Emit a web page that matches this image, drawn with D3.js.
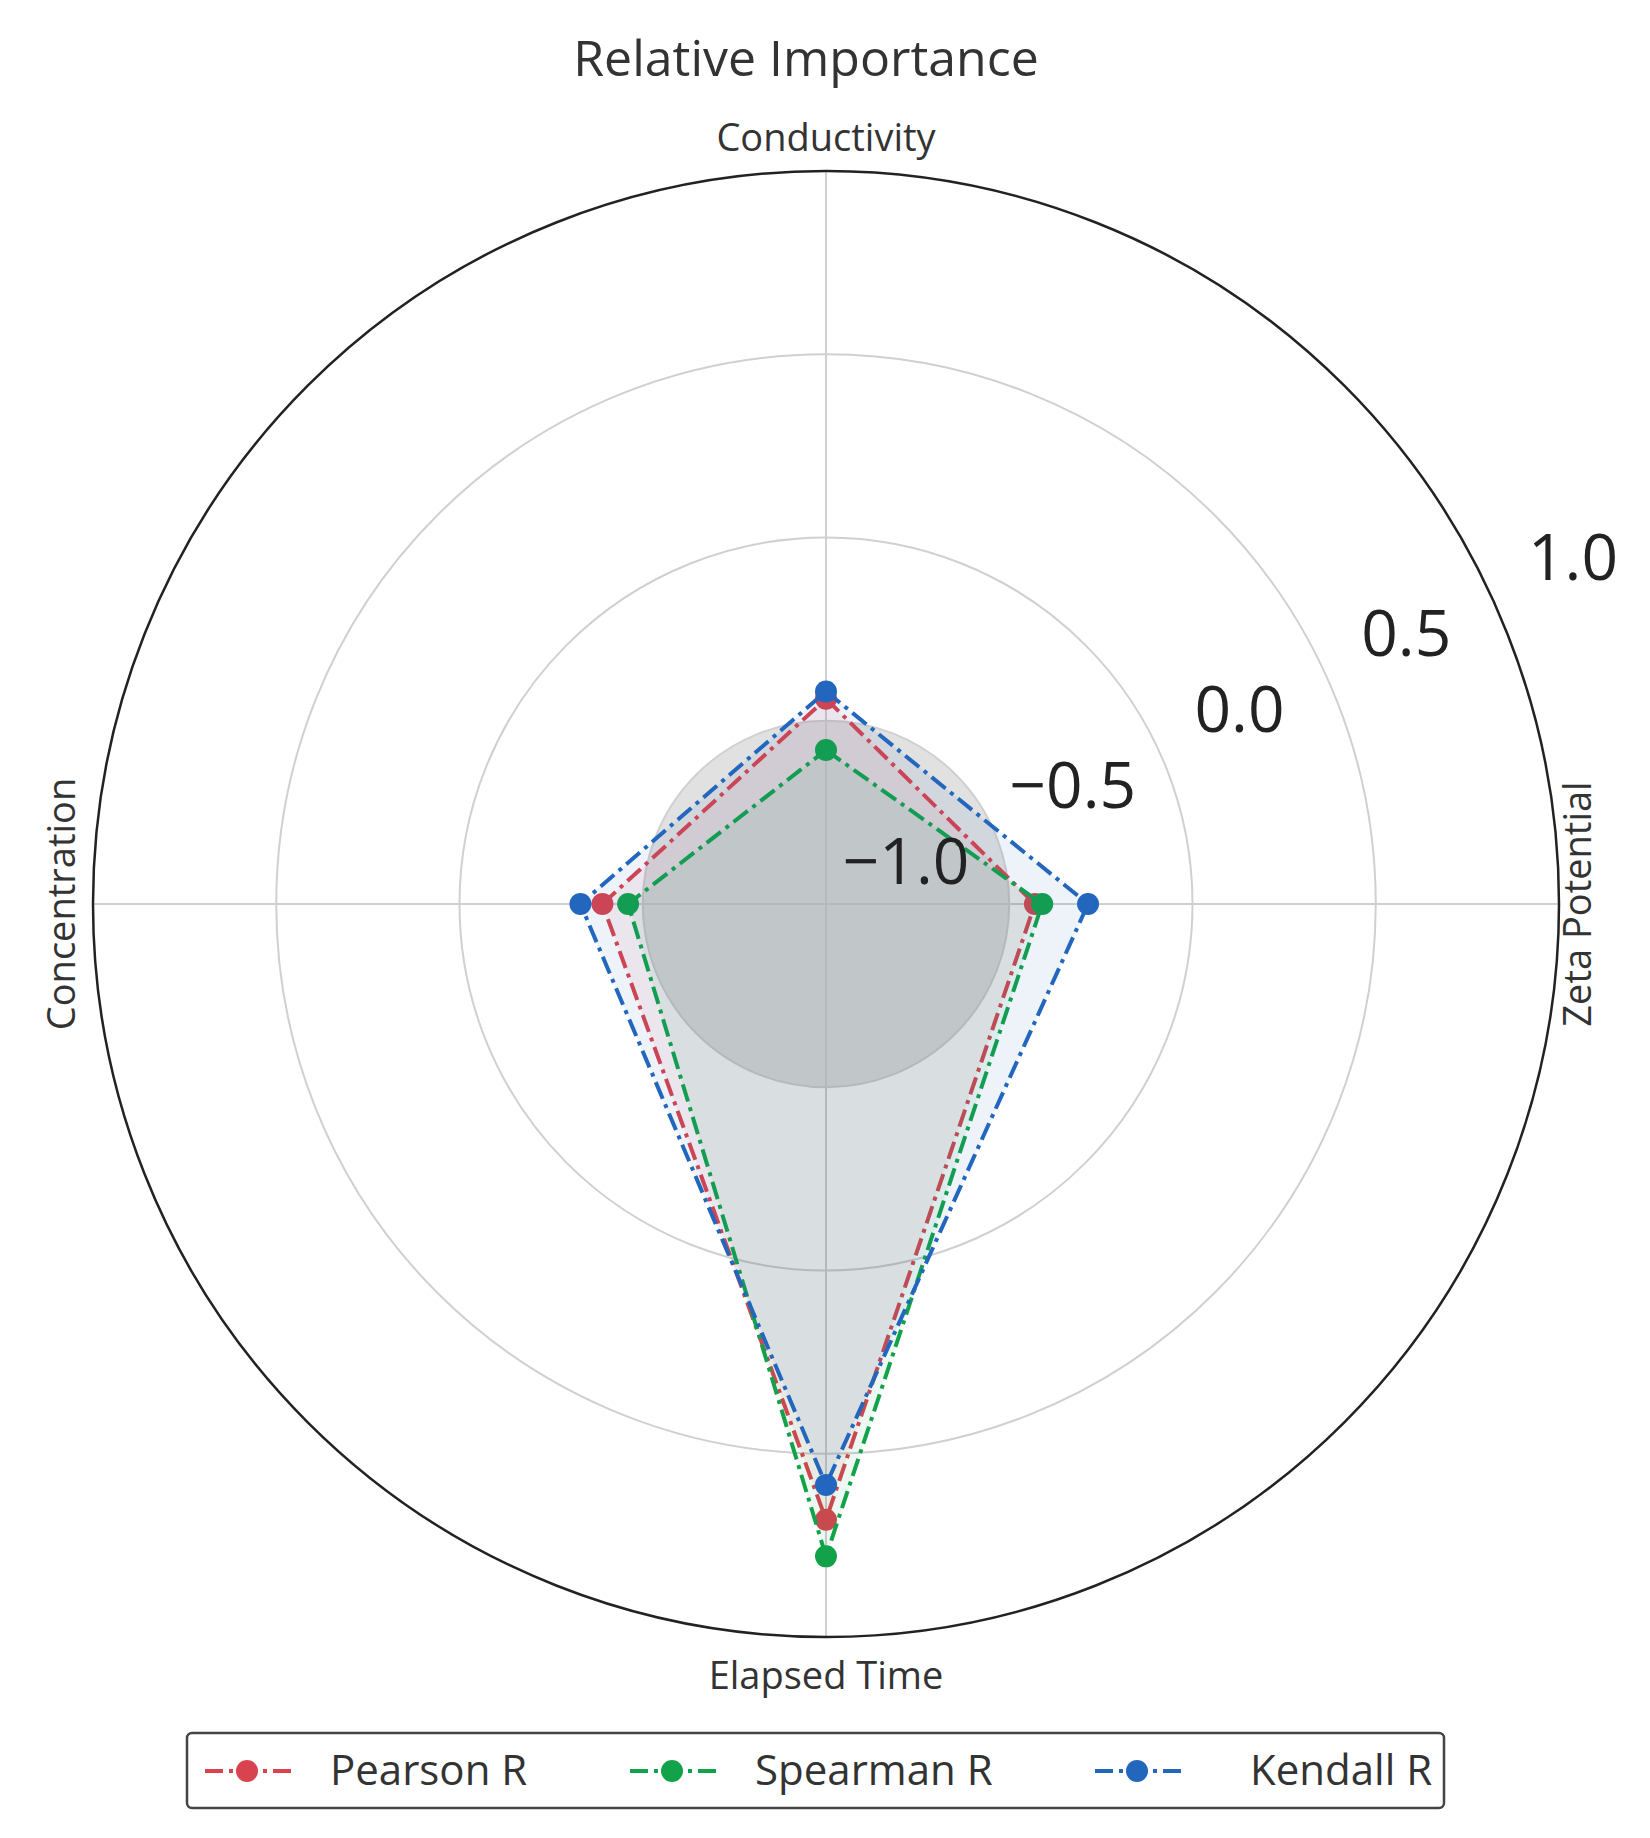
<!DOCTYPE html>
<html lang="en">
<head>
<meta charset="UTF-8">
<title>Relative Importance</title>
<style>
  body { margin: 0; background: #fff; }
  text { font-family: "Open Sans", "DejaVu Sans", sans-serif; fill: #333; }
</style>
</head>
<body>
<svg width="1650" height="1838"></svg>
<script src="https://d3js.org/d3.v7.min.js"></script>
<script>
var axes = ["Conductivity", "Zeta Potential", "Elapsed Time", "Concentration"];
var pearson = [-0.44, -0.43, 0.68, -0.39];
var spearman = [-0.58, -0.41, 0.78, -0.46];
var kendall = [-0.42, -0.285, 0.585, -0.33];
var seriesNames = ["Pearson R", "Spearman R", "Kendall R"];
var seriesColors = ["#d9434f", "#12a24a", "#2366bd"];
var radialTicks = [-1.0, -0.5, 0.0, 0.5, 1.0];

var svg = d3.select("svg"),
    cx = 826, cy = 904, R = 733;

var r = d3.scaleLinear().domain([-1, 1]).range([0, R]);
var angle = d3.scalePoint().domain(axes).range([0, 2 * Math.PI * 3 / 4]);

var g = svg.append("g").attr("transform", "translate(" + cx + "," + cy + ")");

// shaded inner disk
g.append("circle").attr("r", r(-0.5)).attr("fill", "#c8c8c8").attr("fill-opacity", 0.55);

// grid rings
g.selectAll(".ring").data(radialTicks.slice(1, -1)).enter().append("circle")
    .attr("r", function (d) { return r(d); })
    .attr("fill", "none").attr("stroke", "#d0d0d0").attr("stroke-width", 2);

// spokes
axes.forEach(function (a) {
    var t = angle(a);
    g.append("line").attr("x1", -R * Math.sin(t) * 0).attr("y1", 0)
        .attr("x2", R * Math.sin(t)).attr("y2", -R * Math.cos(t))
        .attr("stroke", "#d0d0d0").attr("stroke-width", 2);
});
g.append("line").attr("x1", -R).attr("x2", R).attr("y1", 0).attr("y2", 0).attr("stroke", "#d0d0d0").attr("stroke-width", 2);
g.append("line").attr("y1", -R).attr("y2", R).attr("x1", 0).attr("x2", 0).attr("stroke", "#d0d0d0").attr("stroke-width", 2);

// outer ring
g.append("circle").attr("r", R).attr("fill", "none").attr("stroke", "#222").attr("stroke-width", 2.5);

// series
var line = d3.lineRadial()
    .angle(function (d, i) { return angle(axes[i]); })
    .radius(function (d) { return r(d); })
    .curve(d3.curveLinearClosed);

[pearson, spearman, kendall].forEach(function (vals, k) {
    var col = seriesColors[k];
    g.append("path").attr("d", line(vals))
        .attr("fill", col).attr("fill-opacity", 0.08)
        .attr("stroke", col).attr("stroke-width", 4)
        .attr("stroke-dasharray", "18,6,4,6");
    g.selectAll(".pt" + k).data(vals).enter().append("circle")
        .attr("cx", function (d, i) { return r(d) * Math.sin(angle(axes[i])); })
        .attr("cy", function (d, i) { return -r(d) * Math.cos(angle(axes[i])); })
        .attr("r", 11).attr("fill", col);
});

// radial tick labels
var ta = 24.5 * Math.PI / 180;
g.selectAll(".rt").data(radialTicks).enter().append("text")
    .attr("x", function (d) { return 80 + r(d) * Math.cos(ta); })
    .attr("y", function (d) { return -20 - r(d) * Math.sin(ta); })
    .attr("text-anchor", "middle")
    .style("font-size", "64px").style("fill", "#222")
    .text(function (d) { return d3.format(".1f")(d).replace("-", "\u2212"); });

// axis labels
g.append("text").attr("x", 0).attr("y", -R - 20).attr("text-anchor", "middle")
    .style("font-size", "38px").text(axes[0]);
g.append("text").attr("x", 0).attr("y", R + 52).attr("text-anchor", "middle")
    .style("font-size", "38px").text(axes[2]);
g.append("text").attr("transform", "translate(" + (R + 32) + ",0) rotate(-90)")
    .attr("text-anchor", "middle").style("font-size", "38px").text(axes[1]);
g.append("text").attr("transform", "translate(" + (-R - 18) + ",0) rotate(-90)")
    .attr("text-anchor", "middle").style("font-size", "38px").text(axes[3]);

// title
svg.append("text").attr("x", cx - 20).attr("y", 76).attr("text-anchor", "middle")
    .style("font-size", "50px").text("Relative Importance");

// legend
var lg = svg.append("g");
lg.append("rect").attr("x", 187).attr("y", 1733).attr("width", 1257).attr("height", 75)
    .attr("rx", 5).attr("fill", "#fff").attr("stroke", "#444").attr("stroke-width", 2.5);
var lx = [205, 630, 1095];
seriesNames.forEach(function (n, k) {
    var x0 = lx[k], y0 = 1771, col = seriesColors[k];
    lg.append("line").attr("x1", x0).attr("x2", x0 + 90).attr("y1", y0).attr("y2", y0)
        .attr("stroke", col).attr("stroke-width", 4).attr("stroke-dasharray", "18,6,4,6");
    lg.append("circle").attr("cx", x0 + 42).attr("cy", y0).attr("r", 11).attr("fill", col);
    lg.append("text").attr("x", x0 + 125 + (k === 2 ? 30 : 0)).attr("y", y0 + 14)
        .style("font-size", "42px").text(n);
});
</script>
</body>
</html>
